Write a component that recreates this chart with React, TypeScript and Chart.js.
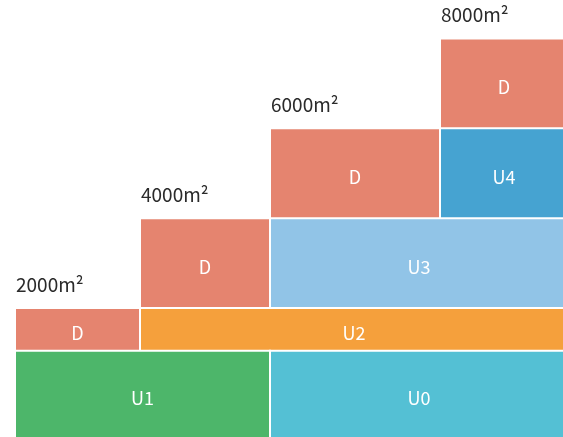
import React, { useEffect, useRef } from "react";
import { Chart, registerables } from "chart.js";

Chart.register(...registerables);

// Blocks (bottom row first)
const blockLabels = ["U1", "U0", "D", "U2", "D", "U3", "D", "U4", "D"];
const xStart = [0, 51, 0, 25, 25, 51, 51, 85, 85];
const xEnd = [51, 110.6, 25, 110.6, 51, 110.6, 85, 110.6, 110.6];
const yBottom = [-900, -900, 1050, 1050, 2000, 2000, 4000, 4000, 6000];
const yTop = [1050, 1050, 2000, 2000, 4000, 4000, 6000, 6000, 8000];
const blockColors = ["#4DB66A", "#54C0D4", "#E5846F", "#F5A03C", "#E5846F", "#91C4E7", "#E5846F", "#46A3D1", "#E5846F"];

// Area captions placed above the "D" blocks
const areaLabels = ["2000m²", "4000m²", "6000m²", "8000m²"];
const areaBlockIndex = [2, 4, 6, 8];

const FONT = '"Noto Sans CJK SC", "Noto Sans", sans-serif';

export default function App() {
  const ref = useRef<HTMLCanvasElement | null>(null);

  useEffect(() => {
    if (!ref.current) return;
    const datasets = blockLabels.map((name, i) => ({
      label: name,
      data: [
        { x: xStart[i], y: yBottom[i] },
        { x: xStart[i], y: yTop[i] },
        { x: xEnd[i], y: yTop[i] },
        { x: xEnd[i], y: yBottom[i] },
      ],
      showLine: true,
      fill: "shape" as const,
      backgroundColor: blockColors[i],
      borderColor: "#ffffff",
      borderWidth: 2,
      pointRadius: 0,
      tension: 0,
    }));

    const labelPlugin = {
      id: "blockLabels",
      afterDatasetsDraw(chart: any) {
        const ctx = chart.ctx;
        const xs = chart.scales.x;
        const ys = chart.scales.y;
        ctx.save();
        ctx.font = `18px ${FONT}`;
        ctx.fillStyle = "#ffffff";
        ctx.textAlign = "center";
        ctx.textBaseline = "alphabetic";
        blockLabels.forEach((name, i) => {
          const x0 = xs.getPixelForValue(xStart[i]);
          const x1 = xs.getPixelForValue(xEnd[i]);
          const y0 = ys.getPixelForValue(yTop[i]);
          const y1 = ys.getPixelForValue(yBottom[i]);
          ctx.fillText(name, (x0 + x1) / 2, (y0 + y1) / 2 + 11);
        });
        ctx.font = `19px ${FONT}`;
        ctx.fillStyle = "#2b2b2b";
        ctx.textAlign = "left";
        areaLabels.forEach((t, k) => {
          const i = areaBlockIndex[k];
          const x0 = xs.getPixelForValue(xStart[i]);
          const y0 = ys.getPixelForValue(yTop[i]);
          ctx.fillText(t, x0 + 1, y0 - 16);
        });
        ctx.restore();
      },
    };

    const chart = new Chart(ref.current, {
      type: "scatter",
      data: { datasets: datasets as any },
      options: {
        responsive: false,
        animation: false,
        layout: { padding: 0, autoPadding: false } as any,
        scales: {
          x: { type: "linear", display: false, min: -3, max: 109.6 },
          y: { type: "linear", display: false, min: -872, max: 8857 },
        },
        plugins: {
          legend: { display: false },
          tooltip: { enabled: false },
        },
      },
      plugins: [labelPlugin],
    });
    return () => chart.destroy();
  }, []);

  return (
    <div style={{ position: "absolute", left: 0, top: 0, width: 563, height: 437, background: "#ffffff" }}>
      <canvas ref={ref} width={563} height={437} style={{ display: "block" }} />
    </div>
  );
}
